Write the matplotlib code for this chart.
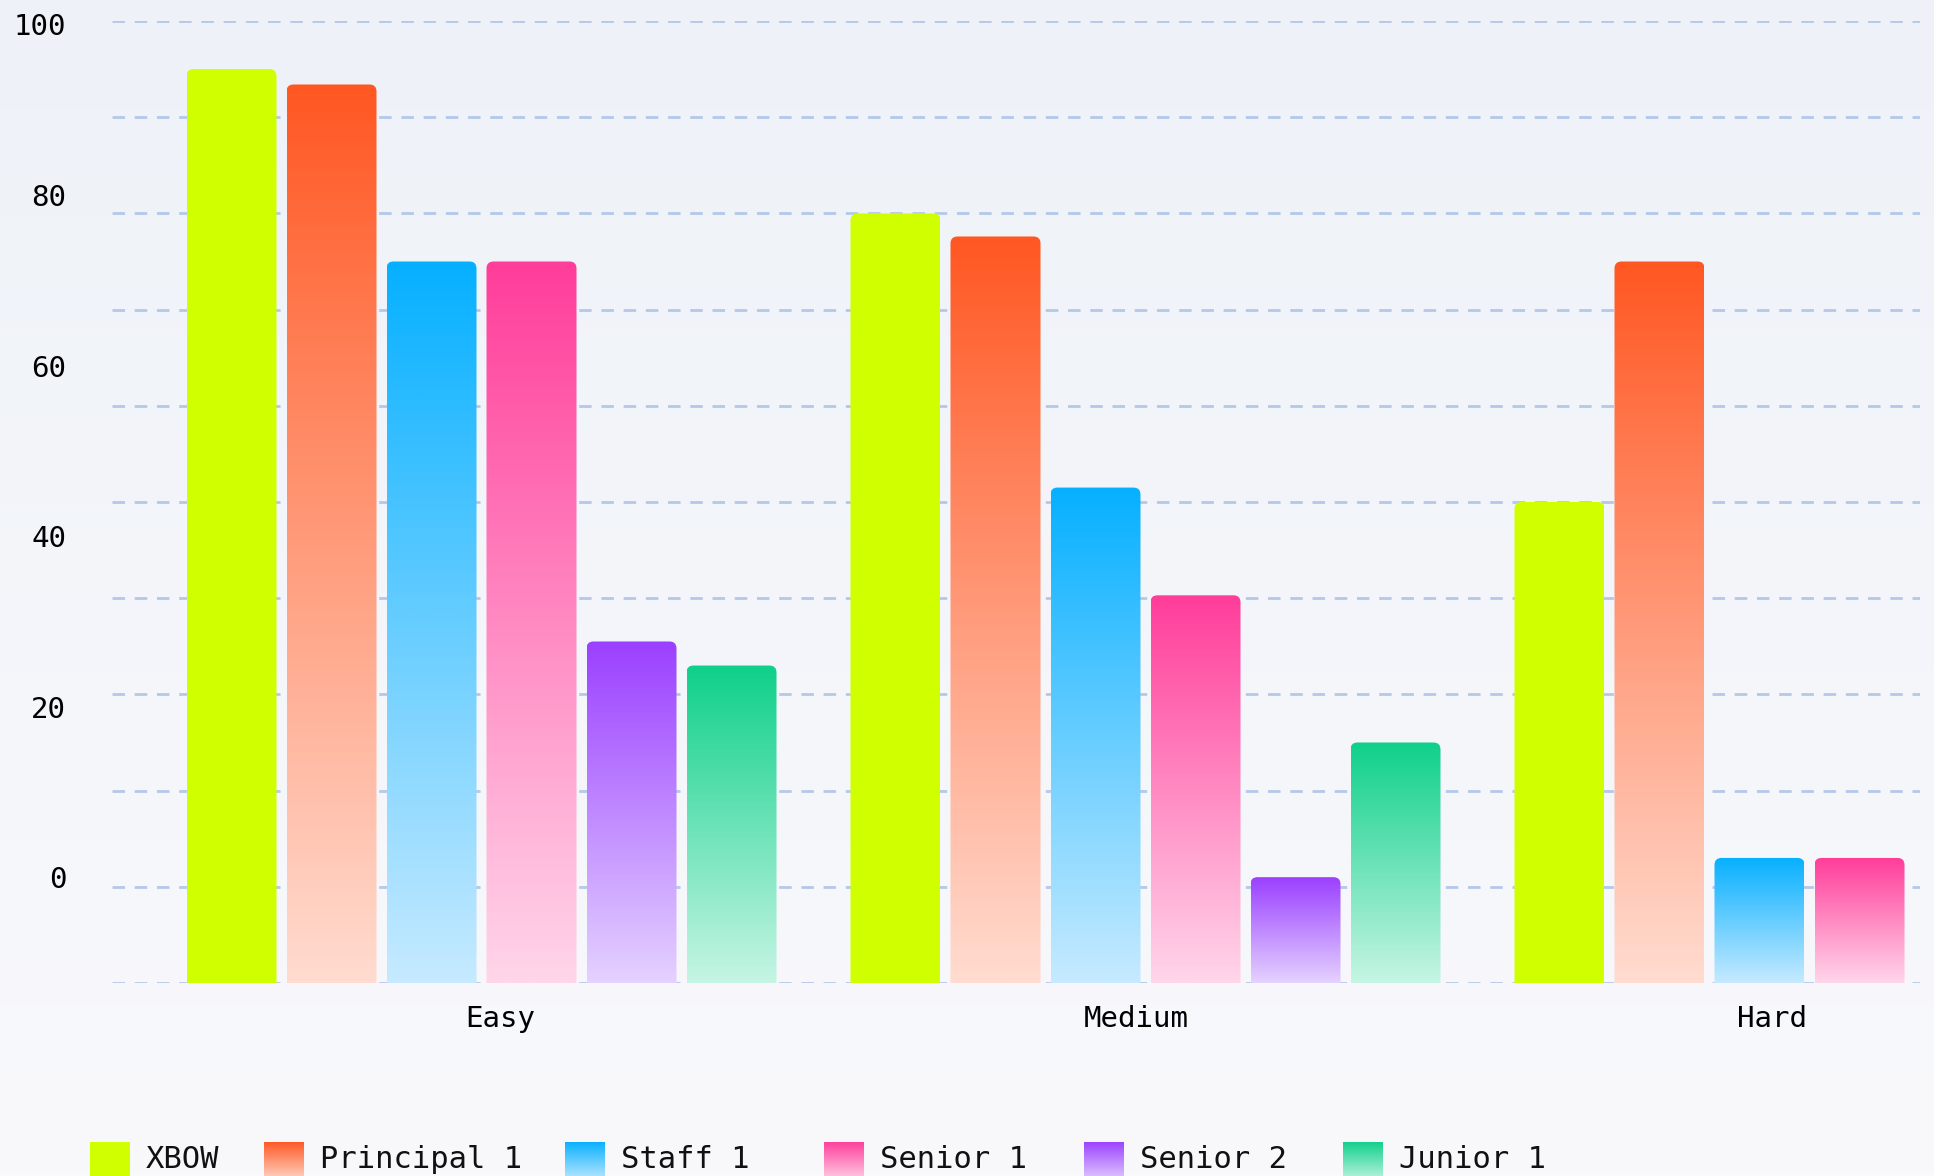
import numpy as np
import matplotlib.pyplot as plt
from matplotlib.colors import to_rgb
from matplotlib.patches import FancyBboxPatch

# data
categories = ['Easy', 'Medium', 'Hard']
series = ['XBOW', 'Principal 1', 'Staff 1', 'Senior 1', 'Senior 2', 'Junior 1']
xbow = [95, 80, 50]
principal_1 = [93.4, 77.6, 75]
staff_1 = [75, 51.5, 13]
senior_1 = [75, 40.3, 13]
senior_2 = [35.5, 11, None]
junior_1 = [33, 25, None]
grid_ticks = [0, 10, 20, 30, 40, 50, 60, 70, 80, 90, 100]
label_ticks = [0, 20, 40, 60, 80, 100]

values = [xbow, principal_1, staff_1, senior_1, senior_2, junior_1]

top_colors = ['#d0ff00', '#ff5722', '#06b0ff', '#ff3d9a', '#9b40ff', '#0fd08a']
bottom_colors = ['#d0ff00', '#ffdcd0', '#c6eaff', '#ffd6ea', '#e4d2ff', '#c6f5e4']

W, H = 1934, 1176
group_step = 6.64
bar_w = 0.9
mono = 'DejaVu Sans Mono'


def grad_img(c_top, c_bot, n=256):
    t = np.linspace(0, 1, n)[:, None]
    a, b = np.array(to_rgb(c_top)), np.array(to_rgb(c_bot))
    return (a[None, :] * (1 - t) + b[None, :] * t)[:, None, :]


fig = plt.figure(figsize=(W / 100, H / 100), dpi=100)

# soft background
bg = fig.add_axes([0, 0, 1, 1], zorder=-10)
bg.imshow(grad_img('#eef2f8', '#f9f9fc'), aspect='auto', extent=[0, 1, 0, 1])
bg.axis('off')

ax = fig.add_axes([112 / W, 1 - 983 / H, (1920 - 112) / W, (983 - 21) / H])
ax.set_facecolor('none')
ax.set_xlim(-1.195, 16.885)
ax.set_ylim(0, 100)
ax.set_yticks(grid_ticks)
ax.set_yticklabels([])
ax.grid(axis='y', color='#b4c8ea', lw=2.0, dashes=(4.5, 3.5), zorder=0)
ax.set_axisbelow(True)
for s in ax.spines.values():
    s.set_visible(False)
ax.tick_params(length=0)

ax.set_xticks([2.685 + g * 6.36 for g in range(len(categories))])
ax.set_xticklabels(categories, fontsize=21, family=mono)
ax.tick_params(axis='x', pad=16)

# y labels live on their own scale (offset from the grid, as in the reference)
ax2 = ax.twinx()
ax2.set_ylim(-12.4, 100.4)
ax2.yaxis.tick_left()
ax2.set_yticks(label_ticks)
ax2.set_yticklabels([str(v) for v in label_ticks], fontsize=21, family=mono)
ax2.tick_params(length=0, pad=33)
for s in ax2.spines.values():
    s.set_visible(False)

px_x = 1.0 / 100          # x data units per pixel
px_y = 100.0 / 962        # y data units per pixel
r = 7 * px_x

for i, vals in enumerate(values):
    xs = [g * group_step + i for g, v in enumerate(vals) if v is not None]
    hs = [v for v in vals if v is not None]
    bars = ax.bar(xs, hs, width=bar_w, facecolor='none', linewidth=0, zorder=2)
    img = grad_img(top_colors[i], bottom_colors[i])
    for b in bars:
        x0, w, h = b.get_x(), b.get_width(), b.get_height()
        clip = FancyBboxPatch((x0, -3), w, h + 3,
                              boxstyle=f'round,pad=0,rounding_size={r}',
                              mutation_aspect=px_y / px_x,
                              transform=ax.transData)
        im = ax.imshow(img, extent=[x0, x0 + w, 0, h], aspect='auto',
                       zorder=3, interpolation='bilinear')
        im.set_clip_path(clip)

ax.set_xlim(-1.195, 16.885)
ax.set_ylim(0, 100)

# legend along the bottom edge
sq_x = [90, 264, 565, 824, 1084, 1343]
for i, name in enumerate(series):
    la = fig.add_axes([sq_x[i] / W, 1 - 1182 / H, 40 / W, 40 / H])
    la.imshow(grad_img(top_colors[i], bottom_colors[i]), aspect='auto')
    la.axis('off')
    fig.text((sq_x[i] + 56) / W, 1 - 1160 / H, name, fontsize=22,
             family=mono, va='center', ha='left', color='#111111')

fig.savefig('out.png', dpi=100)
